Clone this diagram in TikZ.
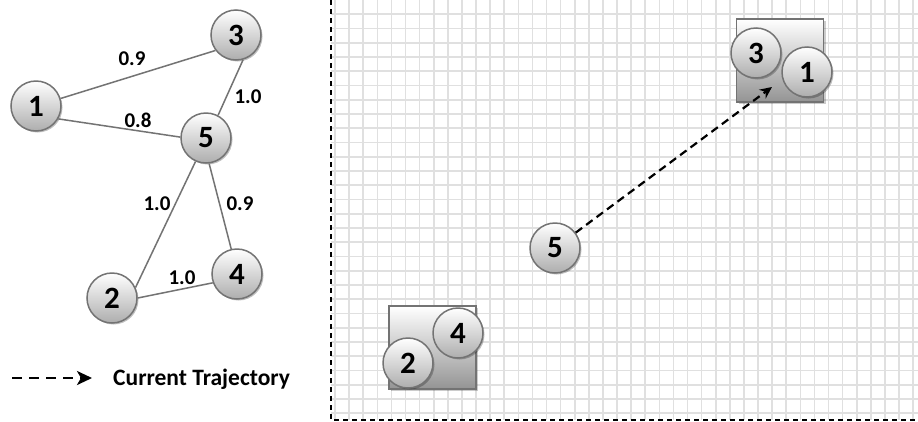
\documentclass[tikz,border=0pt]{standalone}
\usepackage{fontspec}
\setmainfont{Carlito}
\usetikzlibrary{shadows,arrows.meta}
\begin{document}
\begin{tikzpicture}[x=1pt,y=-1pt,
  vnode/.style={circle, minimum size=50pt, inner sep=0pt, draw=black!55, line width=1.5pt,
    top color=white, bottom color=black!32,
    font=\fontsize{31}{33}\selectfont\bfseries,
    drop shadow={shadow xshift=1.5pt, shadow yshift=-1.5pt, opacity=0.25, fill=black}},
  clusterbox/.style={rectangle, draw=black!55, line width=1.5pt, inner sep=0pt,
    minimum width=87pt, minimum height=83pt,
    top color=white, bottom color=black!42,
    drop shadow={shadow xshift=2pt, shadow yshift=-2pt, opacity=0.2, fill=black}},
  edge/.style={draw=black!55, line width=1.5pt},
  wlabel/.style={font=\fontsize{21}{23}\selectfont\bfseries, inner sep=1pt},
  gridline/.style={draw=black!12, line width=1.6pt},
  border/.style={draw=black, line width=1.3pt, dash pattern=on 5pt off 4pt},
  traj/.style={draw=black, line width=2.2pt, dash pattern=on 8pt off 5pt,
    -{Stealth[length=12pt,width=11pt]}}
]
\useasboundingbox (0,0) rectangle (918,421);
\fill[white] (0,0) rectangle (918,421);

% grid
\foreach \i in {0,...,41} {\draw[gridline] (335+14.1*\i,0) -- (335+14.1*\i,420);}
\foreach \j in {1,...,29} {\draw[gridline] (331,14.25*\j) -- (918,14.25*\j);}
\draw[border] (331,0) -- (331,420) -- (918,420);

% left graph
\node[vnode] (n1) at (36,106) {1};
\node[vnode] (n3) at (236,35) {3};
\node[vnode] (n5) at (206,138) {5};
\node[vnode] (n4) at (237,274) {4};
\node[vnode] (n2) at (112,298) {2};
\draw[edge] (n1.17) -- (n3.217);
\draw[edge] (n1.-30) -- (n5.178);
\draw[edge] (n3.-74) -- (n5.62);
\draw[edge] (n5.-114) -- (n2.24);
\draw[edge] (n5.-83) -- (n4.103);
\draw[edge] (n2.0) -- (n4.200);
\node[wlabel] (l13) at (132,59) {0.9};
\node[wlabel] (l35) at (248,97) {1.0};
\node[wlabel] (l15) at (138,120) {0.8};
\node[wlabel] (l25) at (157,204) {1.0};
\node[wlabel] (l45) at (240,204) {0.9};
\node[wlabel] (l24) at (182,278) {1.0};

% legend
\coordinate (lgA) at (12,378);
\coordinate (lgB) at (92,378);
\draw[draw=black, line width=2.6pt, dash pattern=on 10pt off 7pt,
  -{Stealth[length=15pt,width=14pt,inset=4pt]}] (lgA) -- (lgB);
\node[anchor=west, font=\fontsize{23.5}{25}\selectfont\bfseries, inner sep=0pt] (lgT) at (113,379) {Current Trajectory};

% right side
\node[clusterbox] (b1) at (780,60.5) {};
\node[clusterbox] (b2) at (432.5,347.5) {};
\node[vnode] (r3) at (756,53) {3};
\node[vnode] (r1) at (807,72) {1};
\node[vnode] (r4) at (458,333) {4};
\node[vnode] (r2) at (408,363) {2};
\node[vnode] (r5) at (555,248) {5};
\coordinate (tip) at (772,87);
\draw[traj] (r5) -- (tip);
\end{tikzpicture}
\end{document}
